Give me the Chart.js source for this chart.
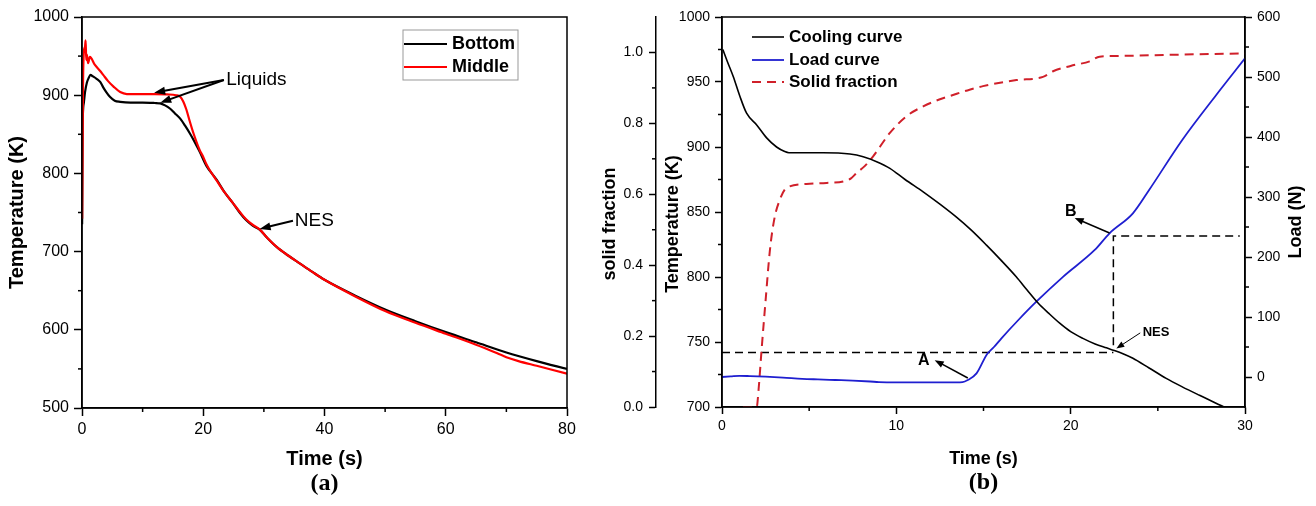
<!DOCTYPE html>
<html>
<head>
<meta charset="utf-8">
<script src="https://cdn.jsdelivr.net/npm/chart.js@4.4.1/dist/chart.umd.min.js"></script>
<style>
  html, body { margin: 0; padding: 0; background: #fff; }
  #wrap { position: relative; width: 1316px; height: 506px; overflow: hidden; }
  canvas { position: absolute; top: 0; }
  #left { left: 0; }
  #right { left: 600px; }
</style>
</head>
<body>
<div id="wrap">
  <canvas id="left" width="600" height="506"></canvas>
  <canvas id="right" width="716" height="506"></canvas>
</div>
<script>
// ---- (a) temperature at two positions
const bottomTime = [0.02, 0.1, 0.3, 0.5, 0.8, 1.1, 1.4, 1.8, 2.4, 3.0, 3.5, 4.0, 4.6, 5.4, 6.3, 8, 10, 12, 12.9, 13.7, 14.5, 15.3, 16.2, 17.0, 17.8, 18.6, 19.4, 20.5, 22.2, 23.5, 24.9, 26, 27.1, 28.2, 29.3, 30.5, 32.1, 34, 35.9, 38, 40, 45, 50, 55, 60, 65, 70, 75, 80]
const bottomTemp = [735, 860, 890, 904, 916, 922, 926, 924, 921, 917, 910, 904, 898, 893, 891.5, 890.5, 890.5, 890, 889.5, 887, 883, 877, 870, 861, 851, 840, 828, 810, 792, 776, 762, 750, 740, 733, 728, 718, 706, 695, 685, 674, 664, 644, 626, 611, 597, 584, 571, 560, 550]
const middleTime = [0.03, 0.15, 0.3, 0.5, 0.6, 0.7, 0.8, 1.0, 1.3, 2.1, 3.0, 3.5, 4.3, 5.2, 6.3, 7.4, 10, 12, 14, 15.5, 16.2, 16.7, 17.2, 17.8, 18.4, 19.4, 20, 20.5, 21, 22.2, 23.5, 24.9, 26, 27.1, 28.2, 29.3, 30.5, 32.1, 34, 35.9, 38, 40, 45, 50, 55, 60, 65, 68.5, 70, 72, 75, 80]
const middleTemp = [742, 900, 955, 962, 970, 945, 952, 941, 949, 939, 931, 926, 918, 911, 904, 901.5, 901.5, 901.5, 901, 900, 898, 892, 882, 866, 851, 830, 821, 812, 805, 791, 776, 762, 751, 741, 734, 728.5, 718, 706, 695, 685, 674, 664, 643, 624, 609, 595, 581, 570, 565, 560, 554, 544]
const leftXTicks = [0, 20, 40, 60, 80]
const leftYTicks = [500, 600, 700, 800, 900, 1000]

// ---- (b) cooling, load and solid fraction
const coolTime = [0.05, 0.3, 0.65, 1.0, 1.41, 1.99, 2.56, 3.13, 3.6, 3.84, 5.8, 7.34, 8.1, 8.87, 9.63, 10.5, 11.54, 12.5, 13.45, 14.3, 15.17, 16.0, 16.89, 17.5, 18.13, 18.75, 19.37, 20.0, 20.7, 21.4, 22.05, 22.5, 23.0, 23.57, 24.5, 25.48, 26.4, 27.39, 28.8, 30]
const coolTemp = [975, 966, 954, 940, 926, 917, 907, 900, 896.5, 895.6, 895.6, 894.6, 892.5, 888.7, 883.6, 875, 865.5, 856, 846, 836, 824.5, 813, 800, 790, 780, 772, 764.5, 758, 752.8, 748.5, 745.5, 743.5, 741, 737.5, 730, 722, 715.5, 709, 700, 692]
const loadTime = [0, 0.5, 1, 1.6, 2.5, 3.5, 4.6, 5.5, 6.5, 7.5, 8.5, 9, 10, 11, 12, 13, 13.8, 14.1, 14.6, 15.2, 15.6, 16.03, 17, 18.03, 19.56, 21.38, 22.23, 23.57, 24.5, 26.4, 28.35, 30]
const loadValue = [0, 1, 2, 1.5, 0.5, -1, -3, -4, -5, -6, -7.5, -8.5, -9, -9, -9, -9, -8.5, -5, 6, 38, 50, 64.5, 95, 125.5, 167, 211.7, 239.5, 272.8, 311.7, 395, 470, 531]
const fracTime = [1.2, 1.99, 2.1, 2.27, 2.5, 2.75, 3.0, 3.32, 3.7, 4.85, 6.0, 6.95, 7.4, 7.72, 8.2, 8.67, 9.63, 10.58, 11.54, 12.5, 13.07, 14.2, 14.97, 16.89, 18.41, 18.99, 20, 21.09, 21.66, 22.62, 26.4, 30]
const fracValue = [0, 0, 0.05, 0.161, 0.3, 0.443, 0.53, 0.585, 0.618, 0.629, 0.632, 0.636, 0.645, 0.66, 0.68, 0.707, 0.773, 0.82, 0.848, 0.868, 0.877, 0.895, 0.905, 0.922, 0.931, 0.947, 0.962, 0.975, 0.988, 0.99, 0.994, 0.997]
// dashed guides: NES temperature level, then up to the load at NES
const guideTempTime = [0, 22.45]
const guideTemp = [742, 742]
const guideLoadTime = [22.45, 22.45, 29.7]
const guideLoad = [53, 235, 235]
const rightXTicks = [0, 10, 20, 30]
const tempTicks = [700, 750, 800, 850, 900, 950, 1000]
const fracTicks = [0, 0.2, 0.4, 0.6, 0.8, 1.0]
const loadTicks = [0, 100, 200, 300, 400, 500, 600]

const pts = (xs, ys) => xs.map((x, i) => ({ x, y: ys[i] }))
const mids = arr => arr.slice(1).map((v, i) => (v + arr[i]) / 2)

Chart.defaults.font.family = "'Liberation Sans', Arial, sans-serif"
Chart.defaults.color = '#000'

// frame, minor ticks, arrows, labels, legend, caption
const decor = {
  id: 'decor',
  afterDraw(chart, args, o) {
    const { ctx, chartArea: a, scales } = chart
    ctx.save()
    ctx.strokeStyle = '#000'
    ctx.fillStyle = '#000'
    ctx.lineWidth = 1.5
    ctx.strokeRect(a.left, a.top, a.right - a.left, a.bottom - a.top)
    for (const id in o.minor) {
      const s = scales[id]
      o.minor[id].forEach(v => {
        const p = s.getPixelForValue(v)
        ctx.beginPath()
        if (s.isHorizontal()) { ctx.moveTo(p, s.top); ctx.lineTo(p, s.top + 4) }
        else if (s.position === 'left') { ctx.moveTo(s.right, p); ctx.lineTo(s.right - 4, p) }
        else { ctx.moveTo(s.left, p); ctx.lineTo(s.left + 4, p) }
        ctx.stroke()
      })
    }
    ;(o.arrows || []).forEach(ar => {
      const xs = scales.x, ys = scales[ar.axis || 'y']
      const x1 = xs.getPixelForValue(ar.from[0]), y1 = ys.getPixelForValue(ar.from[1])
      const x2 = xs.getPixelForValue(ar.to[0]), y2 = ys.getPixelForValue(ar.to[1])
      const ang = Math.atan2(y2 - y1, x2 - x1), c = Math.cos(ang), sn = Math.sin(ang)
      const L = ar.head, W = ar.half
      ctx.lineWidth = ar.width
      ctx.beginPath()
      ctx.moveTo(x1, y1)
      ctx.lineTo(x2 - L * 0.7 * c, y2 - L * 0.7 * sn)
      ctx.stroke()
      ctx.beginPath()
      ctx.moveTo(x2, y2)
      ctx.lineTo(x2 - L * c + W * sn, y2 - L * sn - W * c)
      ctx.lineTo(x2 - L * c - W * sn, y2 - L * sn + W * c)
      ctx.closePath()
      ctx.fill()
    })
    ;(o.texts || []).forEach(t => {
      ctx.font = t.font
      ctx.textAlign = t.align || 'left'
      ctx.textBaseline = 'middle'
      ctx.fillText(t.text, scales.x.getPixelForValue(t.x), scales[t.axis || 'y'].getPixelForValue(t.y))
    })
    ;(o.vtitles || []).forEach(t => {
      ctx.save()
      ctx.translate(t.x, t.y)
      ctx.rotate(-Math.PI / 2)
      ctx.font = t.font
      ctx.textAlign = 'center'
      ctx.textBaseline = 'middle'
      ctx.fillText(t.text, 0, 0)
      ctx.restore()
    })
    const lg = o.legend
    if (lg) {
      if (lg.box) {
        ctx.strokeStyle = '#999'
        ctx.lineWidth = 1
        ctx.strokeRect(...lg.box)
      }
      ctx.font = lg.font
      ctx.textAlign = 'left'
      ctx.textBaseline = 'middle'
      lg.items.forEach((di, i) => {
        const ds = chart.data.datasets[di]
        const y = lg.rows[i]
        ctx.strokeStyle = ds.borderColor
        ctx.lineWidth = ds.borderWidth
        ctx.setLineDash(ds.borderDash || [])
        ctx.beginPath()
        ctx.moveTo(lg.x0, y)
        ctx.lineTo(lg.x1, y)
        ctx.stroke()
        ctx.setLineDash([])
        ctx.fillStyle = '#000'
        ctx.fillText(ds.label, lg.tx, y)
      })
    }
    if (o.caption) {
      ctx.font = o.caption.font
      ctx.textAlign = 'center'
      ctx.textBaseline = 'middle'
      ctx.fillStyle = '#000'
      ctx.fillText(o.caption.text, (a.left + a.right) / 2, o.caption.y)
    }
    ctx.restore()
  }
}

const axisStyle = tl => ({
  grid: { drawOnChartArea: false, tickLength: tl, color: '#000', tickWidth: 1.5 },
  border: { color: '#000', width: 1.5 },
})
const fixTicks = arr => s => { s.ticks = arr.map(v => ({ value: v })) }
const plain = v => String(v)

new Chart(document.getElementById('left'), {
  type: 'line',
  data: {
    datasets: [
      { label: 'Bottom', data: pts(bottomTime, bottomTemp), borderColor: '#000', borderWidth: 2.2, order: 2 },
      { label: 'Middle', data: pts(middleTime, middleTemp), borderColor: '#ff0000', borderWidth: 2.2, order: 1 },
    ]
  },
  options: {
    responsive: false,
    animation: false,
    events: [],
    layout: { padding: { top: 17, right: 33, bottom: 0, left: 0 } },
    elements: { point: { radius: 0 }, line: { cubicInterpolationMode: 'monotone' } },
    scales: {
      x: {
        type: 'linear', min: 0, max: 80,
        afterFit: s => { s.height = 98 },
        afterBuildTicks: fixTicks(leftXTicks),
        ticks: { font: { size: 16 }, padding: 4, autoSkip: false, maxRotation: 0, callback: plain },
        ...axisStyle(8),
        title: { display: true, text: 'Time (s)', font: { size: 20, weight: 'bold' }, padding: { top: 0, bottom: 35 } },
      },
      y: {
        min: 500, max: 1000,
        afterFit: s => { s.width = 82 },
        afterBuildTicks: fixTicks(leftYTicks),
        ticks: { font: { size: 16 }, padding: 5, callback: plain },
        ...axisStyle(8),
        title: { display: true, text: 'Temperature (K)', font: { size: 20, weight: 'bold' }, padding: { top: 5, bottom: 0 } },
      },
    },
    plugins: {
      legend: { display: false },
      tooltip: { enabled: false },
      decor: {
        minor: { x: mids(leftXTicks), y: mids(leftYTicks) },
        arrows: [
          { from: [23.4, 919.4], to: [11.9, 903.2], head: 11, half: 4, width: 2 },
          { from: [23.4, 919.4], to: [12.9, 890.4], head: 11, half: 4, width: 2 },
          { from: [34.8, 739.5], to: [29.3, 729], head: 11, half: 4, width: 2 },
        ],
        texts: [
          { text: 'Liquids', x: 23.8, y: 919.4, font: '19px "Liberation Sans", Arial' },
          { text: 'NES', x: 35.1, y: 740, font: '19px "Liberation Sans", Arial' },
        ],
        legend: { box: [403, 30, 115, 50], x0: 404, x1: 447, tx: 452, rows: [44, 67], items: [0, 1], font: 'bold 18px "Liberation Sans", Arial' },
        caption: { text: '(a)', y: 484, font: 'bold 24px "Liberation Serif", "Times New Roman", serif' },
      },
    },
  },
  plugins: [decor],
})

new Chart(document.getElementById('right'), {
  type: 'line',
  data: {
    datasets: [
      { label: 'Cooling curve', data: pts(coolTime, coolTemp), yAxisID: 'y', borderColor: '#000', borderWidth: 1.6 },
      { label: 'Load curve', data: pts(loadTime, loadValue), yAxisID: 'yL', borderColor: '#1f1fd0', borderWidth: 1.8 },
      { label: 'Solid fraction', data: pts(fracTime, fracValue), yAxisID: 'yF', borderColor: '#d0202a', borderWidth: 2, borderDash: [9, 6] },
      { label: 'guide T', data: pts(guideTempTime, guideTemp), yAxisID: 'y', borderColor: '#000', borderWidth: 1.5, borderDash: [8, 5], cubicInterpolationMode: 'default', tension: 0 },
      { label: 'guide L', data: pts(guideLoadTime, guideLoad), yAxisID: 'yL', borderColor: '#000', borderWidth: 1.5, borderDash: [8, 5], cubicInterpolationMode: 'default', tension: 0 },
    ]
  },
  options: {
    responsive: false,
    animation: false,
    events: [],
    layout: { padding: { top: 17, right: 0, bottom: 0, left: 0 } },
    elements: { point: { radius: 0 }, line: { cubicInterpolationMode: 'monotone' } },
    scales: {
      x: {
        type: 'linear', min: 0, max: 30,
        afterFit: s => { s.height = 99 },
        afterBuildTicks: fixTicks(rightXTicks),
        ticks: { font: { size: 14 }, padding: 4, autoSkip: false, maxRotation: 0, callback: plain },
        ...axisStyle(7),
        title: { display: true, text: 'Time (s)', font: { size: 18, weight: 'bold' }, padding: { top: 0, bottom: 36 } },
      },
      y: {
        position: 'left', weight: 1, min: 700, max: 1000,
        afterFit: s => { s.width = 66 },
        afterBuildTicks: fixTicks(tempTicks),
        ticks: { font: { size: 14 }, padding: 5, callback: plain },
        ...axisStyle(7),
      },
      yF: {
        position: 'left', weight: 2, min: 0, max: 1.1,
        afterFit: s => { s.width = 56 },
        afterBuildTicks: fixTicks(fracTicks),
        ticks: { font: { size: 14 }, padding: 6, callback: v => v.toFixed(1) },
        ...axisStyle(7),
      },
      yL: {
        position: 'right', min: -50, max: 600,
        afterFit: s => { s.width = 71 },
        afterBuildTicks: fixTicks(loadTicks),
        ticks: { font: { size: 14 }, padding: 5, callback: plain },
        ...axisStyle(7),
      },
    },
    plugins: {
      legend: { display: false },
      tooltip: { enabled: false },
      decor: {
        minor: { x: mids(rightXTicks), y: mids(tempTicks), yF: mids(fracTicks), yL: mids(loadTicks) },
        arrows: [
          { from: [14.1, 722.3], to: [12.2, 736], head: 9, half: 3.5, width: 1.5 },
          { from: [22.23, 833.8], to: [20.23, 845.4], head: 9, half: 3.5, width: 1.5 },
          { from: [23.99, 757], to: [22.62, 745], head: 8, half: 3, width: 1 },
        ],
        texts: [
          { text: 'A', x: 11.58, y: 736, align: 'center', font: 'bold 16px "Liberation Sans", Arial' },
          { text: 'B', x: 20, y: 850, align: 'center', font: 'bold 16px "Liberation Sans", Arial' },
          { text: 'NES', x: 24.13, y: 757.7, font: 'bold 13px "Liberation Sans", Arial' },
        ],
        vtitles: [
          { text: 'solid fraction', x: 10, y: 224, font: 'bold 18px "Liberation Sans", Arial' },
          { text: 'Temperature (K)', x: 73, y: 224, font: 'bold 18px "Liberation Sans", Arial' },
          { text: 'Load (N)', x: 696, y: 222, font: 'bold 18px "Liberation Sans", Arial' },
        ],
        legend: { x0: 152, x1: 184, tx: 189, rows: [37, 60, 82], items: [0, 1, 2], font: 'bold 17px "Liberation Sans", Arial' },
        caption: { text: '(b)', y: 483, font: 'bold 24px "Liberation Serif", "Times New Roman", serif' },
      },
    },
  },
  plugins: [decor],
})
</script>
</body>
</html>
